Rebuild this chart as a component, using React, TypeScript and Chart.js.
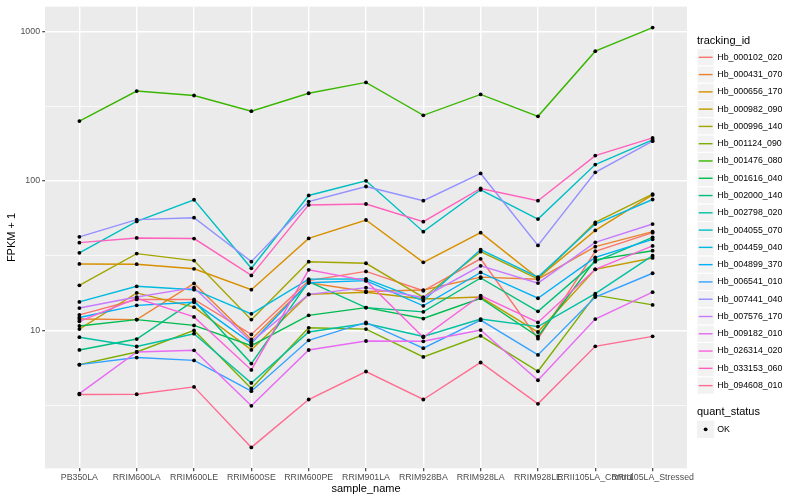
import React, { useEffect, useRef } from "react";
import { Chart, registerables } from "chart.js";

Chart.register(...registerables);

const categories = [
  "PB350LA", "RRIM600LA", "RRIM600LE", "RRIM600SE", "RRIM600PE", "RRIM901LA",
  "RRIM928BA", "RRIM928LA", "RRIM928LE", "RRII105LA_Control", "RRII105LA_Stressed",
];

const trackingIds = [
  "Hb_000102_020", "Hb_000431_070", "Hb_000656_170", "Hb_000982_090", "Hb_000996_140",
  "Hb_001124_090", "Hb_001476_080", "Hb_001616_040", "Hb_002000_140", "Hb_002798_020",
  "Hb_004055_070", "Hb_004459_040", "Hb_004899_370", "Hb_006541_010", "Hb_007441_040",
  "Hb_007576_170", "Hb_009182_010", "Hb_026314_020", "Hb_033153_060", "Hb_094608_010",
];

const hb000102020 = [12.7, 16.1, 16.1, 9.4, 21.5, 24.8, 18.4, 30.1, 8.8, 33.8, 45];
const hb000431070 = [11.9, 11.8, 20.6, 8.7, 20.8, 18.2, 18.6, 22.7, 22.0, 36.3, 45.7];
const hb000656170 = [27.8, 27.7, 25.8, 18.7, 41.2, 54.7, 28.5, 45, 22.4, 46.6, 80.5];
const hb000982090 = [10.2, 17.8, 14.3, 7.4, 17.4, 18, 16.2, 16.7, 9.75, 25.6, 30.5];
const hb000996140 = [20, 32.6, 29.3, 11.8, 28.8, 28.1, 16.6, 33.6, 22.1, 52.7, 81.5];
const hb001124090 = [5.9, 7.17, 10, 4.09, 10.4, 10.2, 6.64, 9.2, 5.33, 17.2, 14.8];
const hb001476080 = [251, 398, 372, 292, 385, 455, 274, 378, 270, 736, 1058];
const hb001616040 = [10.7, 11.8, 10.8, 7.9, 12.6, 14.2, 12.0, 16.4, 9.1, 29.6, 34.1];
const hb002000140 = [7.4, 8.75, 15.8, 6.0, 21.2, 14.2, 13.3, 22.4, 13.4, 28.8, 41.9];
const hb002798020 = [9.0, 7.8, 9.5, 4.45, 9.75, 11.1, 9.1, 11.9, 10.6, 17.6, 31.6];
const hb004055070 = [33, 53.5, 74.7, 26, 79.8, 100, 45.7, 87.1, 55.5, 128.5, 187.7];
const hb004459040 = [15.5, 19.7, 18.7, 12.9, 22.0, 22.1, 15.8, 34.7, 22.7, 51.4, 75];
const hb004899370 = [12.2, 14.7, 15.4, 8.2, 20.8, 21.5, 14.6, 24.4, 16.4, 30.8, 40.6];
const hb006541010 = [5.9, 6.58, 6.3, 3.92, 8.58, 11.3, 7.6, 11.7, 6.85, 16.7, 24.1];
const hb007441040 = [42.2, 55, 56.7, 28.8, 72.6, 91.6, 73.6, 112, 37, 114, 184];
const hb007576170 = [14.1, 16.7, 19.3, 8.4, 17.4, 19.3, 16.6, 27, 20.7, 38.8, 51.4];
const hb009182010 = [3.78, 7.17, 7.36, 3.13, 7.39, 8.49, 8.45, 10.05, 4.64, 11.9, 18];
const hb026314020 = [11.5, 16.4, 12.3, 5.44, 25.4, 21.5, 9.0, 17.1, 11.3, 25.6, 36.7];
const hb033153060 = [38.6, 41.5, 41.1, 23.3, 69, 70, 53.3, 88.9, 73.6, 147.5, 193.5];
const hb094608010 = [3.73, 3.74, 4.19, 1.65, 3.45, 5.31, 3.45, 6.1, 3.23, 7.82, 9.12];

const seriesValues = [
  hb000102020, hb000431070, hb000656170, hb000982090, hb000996140,
  hb001124090, hb001476080, hb001616040, hb002000140, hb002798020,
  hb004055070, hb004459040, hb004899370, hb006541010, hb007441040,
  hb007576170, hb009182010, hb026314020, hb033153060, hb094608010,
];

const colors = [
  "#F8766D", "#EA8331", "#D89000", "#C09B00", "#A3A500", "#7CAE00", "#39B600", "#00BB4E",
  "#00BF7D", "#00C1A3", "#00BFC4", "#00BAE0", "#00B0F6", "#35A2FF", "#9590FF", "#C77CFF",
  "#E76BF3", "#FA62DB", "#FF62BC", "#FF6C91",
];

const majorTicks = [10, 100, 1000];
const minorTicks = [Math.sqrt(10), Math.sqrt(1000), Math.sqrt(100000)];
const quantStatus = ["OK"];

const FONT = '"Liberation Sans", Arial, Helvetica, sans-serif';

export default function App() {
  const ref = useRef<HTMLCanvasElement | null>(null);

  useEffect(() => {
    const canvas = ref.current;
    if (!canvas) return;
    const all = seriesValues.flat();
    const lo = Math.log10(Math.min(...all));
    const hi = Math.log10(Math.max(...all));
    const pad = (hi - lo) * 0.05;
    const yMin = Math.pow(10, lo - pad);
    const yMax = Math.pow(10, hi + pad);
    const isMajor = (v: number) => majorTicks.some((m) => Math.abs(m - v) < 1e-6);

    const lineSets = seriesValues.map((vals, s) => ({
      type: "line" as const,
      label: trackingIds[s],
      data: vals.map((v, i) => ({ x: i, y: v })),
      borderColor: colors[s],
      backgroundColor: colors[s],
      borderWidth: 1.42,
      pointRadius: 0,
      tension: 0,
      fill: false,
      order: -s,
    }));
    const pointSet = {
      type: "scatter" as const,
      label: "points",
      data: seriesValues.flatMap((vals) => vals.map((v, i) => ({ x: i, y: v }))),
      pointRadius: 1.9,
      pointBackgroundColor: "#000000",
      pointBorderWidth: 0,
      showLine: false,
      order: -1000,
    };

    const bgPlugin = {
      id: "panelBg",
      beforeDraw(chart: any) {
        const { ctx, chartArea } = chart;
        ctx.save();
        ctx.fillStyle = "#FFFFFF";
        ctx.fillRect(0, 0, chart.width, chart.height);
        ctx.fillStyle = "#EBEBEB";
        ctx.fillRect(chartArea.left, chartArea.top, chartArea.right - chartArea.left, chartArea.bottom - chartArea.top);
        ctx.restore();
      },
    };

    const legendPlugin = {
      id: "ggLegend",
      afterDraw(chart: any) {
        const ctx = chart.ctx as CanvasRenderingContext2D;
        const kx = 697;
        const ks = 17.28;
        ctx.save();
        ctx.textBaseline = "middle";
        ctx.textAlign = "left";
        ctx.fillStyle = "#000000";
        ctx.font = `11px ${FONT}`;
        ctx.fillText("tracking_id", kx, 40.5);
        trackingIds.forEach((id, i) => {
          const cy = 57.3 + i * ks;
          ctx.fillStyle = "#F2F2F2";
          ctx.fillRect(kx, cy - ks / 2, ks, ks);
          ctx.strokeStyle = "#FFFFFF";
          ctx.lineWidth = 1;
          ctx.strokeRect(kx, cy - ks / 2, ks, ks);
          ctx.strokeStyle = colors[i];
          ctx.lineWidth = 1.42;
          ctx.beginPath();
          ctx.moveTo(kx + 1.7, cy);
          ctx.lineTo(kx + ks - 1.7, cy);
          ctx.stroke();
          ctx.fillStyle = "#000000";
          ctx.font = `8.8px ${FONT}`;
          ctx.fillText(id, kx + ks + 3, cy);
        });
        ctx.font = `11px ${FONT}`;
        ctx.fillText("quant_status", kx, 412);
        quantStatus.forEach((q, i) => {
          const cy = 429.3 + i * ks;
          ctx.fillStyle = "#F2F2F2";
          ctx.fillRect(kx, cy - ks / 2, ks, ks);
          ctx.fillStyle = "#000000";
          ctx.beginPath();
          ctx.arc(kx + ks / 2, cy, 1.9, 0, Math.PI * 2);
          ctx.fill();
          ctx.font = `8.8px ${FONT}`;
          ctx.fillText(q, kx + ks + 3, cy);
        });
        ctx.restore();
      },
    };

    const chart = new Chart(canvas, {
      type: "line",
      data: { datasets: [...lineSets, pointSet] as any },
      options: {
        animation: false,
        responsive: false,
        devicePixelRatio: 1,
        layout: { padding: { top: 5.3, right: 113, left: 0, bottom: 0 } },
        plugins: { legend: { display: false }, tooltip: { enabled: false } },
        scales: {
          x: {
            type: "linear",
            min: -0.6,
            max: categories.length - 1 + 0.6,
            afterBuildTicks: (scale: any) => {
              scale.ticks = categories.map((_, i) => ({ value: i }));
            },
            afterFit: (scale: any) => {
              scale.height = 31.6;
            },
            ticks: {
              autoSkip: false,
              maxRotation: 0,
              minRotation: 0,
              padding: 2.2,
              color: "#4D4D4D",
              font: { family: FONT, size: 8.8, lineHeight: 1 },
              callback: (v: any) => categories[Math.round(Number(v))] ?? "",
            },
            grid: {
              color: "#FFFFFF",
              lineWidth: 1.42,
              tickColor: "#333333",
              tickLength: 2.75,
              tickWidth: 1.1,
            },
            border: { display: false },
            title: {
              display: true,
              text: "sample_name",
              color: "#000000",
              font: { family: FONT, size: 11, lineHeight: 1 },
              padding: { top: 0, bottom: 5.5 },
            },
          },
          y: {
            type: "logarithmic",
            min: yMin,
            max: yMax,
            afterBuildTicks: (scale: any) => {
              scale.ticks = [...minorTicks, ...majorTicks]
                .sort((a, b) => a - b)
                .map((v) => ({ value: v }));
            },
            afterFit: (scale: any) => {
              scale.width = 45;
            },
            ticks: {
              autoSkip: false,
              padding: 2.2,
              color: "#4D4D4D",
              font: { family: FONT, size: 8.8, lineHeight: 1 },
              callback: (v: any) => (isMajor(Number(v)) ? String(Math.round(Number(v))) : ""),
            },
            grid: {
              color: "#FFFFFF",
              lineWidth: (ctx: any) => (ctx.tick && isMajor(ctx.tick.value) ? 1.42 : 0.71),
              tickColor: (ctx: any) => (ctx.tick && isMajor(ctx.tick.value) ? "#333333" : "rgba(0,0,0,0)"),
              tickLength: 2.75,
              tickWidth: 1.1,
            },
            border: { display: false },
            title: {
              display: true,
              text: "FPKM + 1",
              color: "#000000",
              font: { family: FONT, size: 11, lineHeight: 1 },
              padding: { top: 6.5, bottom: 0 },
            },
          },
        },
      },
      plugins: [bgPlugin, legendPlugin],
    } as any);

    return () => chart.destroy();
  }, []);

  return (
    <div style={{ position: "fixed", left: 0, top: 0, width: 800, height: 500, background: "#FFFFFF" }}>
      <canvas ref={ref} width={800} height={500} style={{ display: "block", width: 800, height: 500 }} />
    </div>
  );
}
